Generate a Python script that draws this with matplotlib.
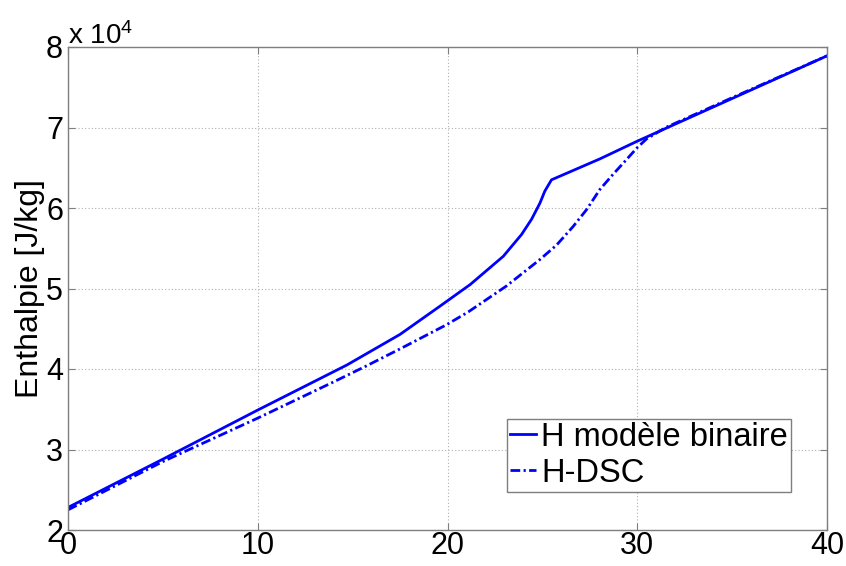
import matplotlib
matplotlib.use("Agg")
import matplotlib.pyplot as plt
import numpy as np

# values (temperature, enthalpy in J/kg)
t_model = [0, 5, 10, 14.7, 17.5, 19.6, 21.2, 22.94, 23.9, 24.43, 24.87, 25.13, 25.48,
           28.03, 30, 35, 40]
h_model = [22800, 28800, 34900, 40500, 44300, 47800, 50500, 54000, 56700, 58600, 60600,
           62100, 63500, 66100, 68300, 73600, 78900]

t_dsc = [0, 5, 10, 14, 15.74, 17.5, 19.95, 21.1, 23.1, 24.87, 25.75, 26.62, 27.33, 28.03,
         28.73, 29.35, 30, 30.5, 31.5, 35, 40]
h_dsc = [22500, 28500, 33900, 38400, 40400, 42500, 45500, 47100, 50300, 53600, 55400,
         57700, 59800, 62300, 64200, 65800, 67500, 68600, 70000, 73700, 78900]

xticks = [0, 10, 20, 30, 40]
yticks = [2, 3, 4, 5, 6, 7, 8]

plt.rcParams['font.family'] = ['Liberation Sans', 'DejaVu Sans']
plt.rcParams['mathtext.fontset'] = 'custom'
plt.rcParams['mathtext.rm'] = 'Liberation Sans'
plt.rcParams['mathtext.it'] = 'Liberation Sans'

fig = plt.figure(figsize=(8.46, 5.66), dpi=100)
ax = fig.add_axes([68 / 846, 36 / 566, 759 / 846, 483 / 566])

ax.plot(t_model, np.array(h_model) / 1e4, color='#0000ff', lw=2, label='H modèle binaire')
ax.plot(t_dsc, np.array(h_dsc) / 1e4, color='#0000ff', lw=2,
        linestyle=(0, (3.5, 1.2, 0.8, 1.2)), label='H-DSC')

ax.set_xlim(0, 40)
ax.set_ylim(2, 8)
ax.set_xticks(xticks)
ax.set_yticks(yticks)
ax.tick_params(direction='in', top=True, right=True, labelsize=22, length=5,
               color='#7f7f7f')
ax.tick_params(axis='x', pad=1)
ax.tick_params(axis='y', pad=3.6)
for s in ax.spines.values():
    s.set_color('#7f7f7f')
    s.set_linewidth(1)
ax.grid(True, linestyle=(0, (1, 2)), color='#b0b0b0', linewidth=0.8)

ax.set_ylabel('Enthalpie [J/kg]', fontsize=23)
ax.yaxis.set_label_coords(-0.03, 0.5)
ax.text(0.0, 1.006, r'x 10$^{4}$', transform=ax.transAxes, fontsize=20,
        ha='left', va='baseline')

leg = ax.legend(loc='lower right', bbox_to_anchor=(0.9526, 0.0787), fontsize=23.5,
                borderaxespad=0, handlelength=0.8, handletextpad=0.15,
                labelspacing=0.15, borderpad=0.1, fancybox=False, framealpha=1)
leg.get_frame().set_edgecolor('#7f7f7f')
leg.get_frame().set_linewidth(1)

fig.savefig('out.png', dpi=100, facecolor='white')
